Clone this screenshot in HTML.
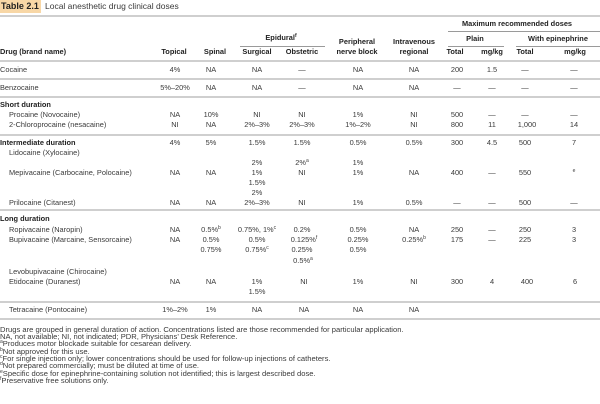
<!DOCTYPE html>
<html><head><meta charset="utf-8"><style>
html,body{margin:0;padding:0;background:#fff;}
body{width:600px;height:404px;position:relative;overflow:hidden;font-family:"Liberation Sans",sans-serif;font-size:7.4px;color:#3a3a3a;}
.t{position:absolute;line-height:10px;white-space:nowrap;}
.c{transform:translateX(-50%);}
.b{font-weight:bold;color:#222;}
.h{position:absolute;height:2px;background:#cfcfcf;}
.s{position:absolute;height:1px;background:#9a9a9a;}
sup{font-size:5px;vertical-align:3px;line-height:0;}
.f{position:absolute;left:0;line-height:8px;font-size:7.6px;white-space:nowrap;}
</style></head><body>
<div style="position:absolute;left:0;top:0;width:41px;height:13px;background:#f8d7a6;"></div>
<div class="t b" style="left:1px;top:1px;font-size:9px;">Table 2.1</div>
<div class="t" style="left:45px;top:1px;font-size:8.5px;">Local anesthetic drug clinical doses</div>
<div class="h" style="left:0;top:15px;width:600px;"></div>

<div class="t b c" style="left:517px;top:19px;">Maximum recommended doses</div>
<div class="s" style="left:448px;top:31px;width:152px;"></div>
<div class="t b c" style="left:281px;top:33px;">Epidural<sup>f</sup></div>
<div class="t b c" style="left:475px;top:34px;">Plain</div>
<div class="t b c" style="left:558px;top:34px;">With epinephrine</div>
<div class="s" style="left:240px;top:46px;width:85px;"></div>
<div class="s" style="left:448px;top:46px;width:56px;"></div>
<div class="s" style="left:516px;top:46px;width:84px;"></div>
<div class="t b c" style="left:357px;top:37px;">Peripheral</div>
<div class="t b c" style="left:414px;top:37px;">Intravenous</div>
<div class="t b" style="left:0;top:47px;">Drug (brand name)</div>
<div class="t b c" style="left:174px;top:47px;">Topical</div>
<div class="t b c" style="left:215px;top:47px;">Spinal</div>
<div class="t b c" style="left:257px;top:47px;">Surgical</div>
<div class="t b c" style="left:302px;top:47px;">Obstetric</div>
<div class="t b c" style="left:357px;top:47px;">nerve block</div>
<div class="t b c" style="left:414px;top:47px;">regional</div>
<div class="t b c" style="left:455px;top:47px;">Total</div>
<div class="t b c" style="left:492px;top:47px;">mg/kg</div>
<div class="t b c" style="left:525px;top:47px;">Total</div>
<div class="t b c" style="left:575px;top:47px;">mg/kg</div>
<div class="h" style="left:0;top:60px;width:600px;"></div>

<div class="t" style="left:0;top:65px;">Cocaine</div>
<div class="t c" style="left:175px;top:65px;">4%</div>
<div class="t c" style="left:211px;top:65px;">NA</div>
<div class="t c" style="left:257px;top:65px;">NA</div>
<div class="t c" style="left:302px;top:65px;">—</div>
<div class="t c" style="left:358px;top:65px;">NA</div>
<div class="t c" style="left:414px;top:65px;">NA</div>
<div class="t c" style="left:457px;top:65px;">200</div>
<div class="t c" style="left:492px;top:65px;">1.5</div>
<div class="t c" style="left:525px;top:65px;">—</div>
<div class="t c" style="left:574px;top:65px;">—</div>
<div class="h" style="left:0;top:78px;width:600px;"></div>
<div class="t" style="left:0;top:83px;">Benzocaine</div>
<div class="t c" style="left:175px;top:83px;">5%–20%</div>
<div class="t c" style="left:211px;top:83px;">NA</div>
<div class="t c" style="left:257px;top:83px;">NA</div>
<div class="t c" style="left:302px;top:83px;">—</div>
<div class="t c" style="left:358px;top:83px;">NA</div>
<div class="t c" style="left:414px;top:83px;">NA</div>
<div class="t c" style="left:457px;top:83px;">—</div>
<div class="t c" style="left:492px;top:83px;">—</div>
<div class="t c" style="left:525px;top:83px;">—</div>
<div class="t c" style="left:574px;top:83px;">—</div>
<div class="h" style="left:0;top:96px;width:600px;"></div>
<div class="t b" style="left:0;top:100px;">Short duration</div>
<div class="t" style="left:9px;top:110px;">Procaine (Novocaine)</div>
<div class="t c" style="left:175px;top:110px;">NA</div>
<div class="t c" style="left:211px;top:110px;">10%</div>
<div class="t c" style="left:257px;top:110px;">NI</div>
<div class="t c" style="left:302px;top:110px;">NI</div>
<div class="t c" style="left:358px;top:110px;">1%</div>
<div class="t c" style="left:414px;top:110px;">NI</div>
<div class="t c" style="left:457px;top:110px;">500</div>
<div class="t c" style="left:492px;top:110px;">—</div>
<div class="t c" style="left:525px;top:110px;">—</div>
<div class="t c" style="left:574px;top:110px;">—</div>
<div class="t" style="left:9px;top:120px;">2-Chloroprocaine (nesacaine)</div>
<div class="t c" style="left:175px;top:120px;">NI</div>
<div class="t c" style="left:211px;top:120px;">NA</div>
<div class="t c" style="left:257px;top:120px;">2%–3%</div>
<div class="t c" style="left:302px;top:120px;">2%–3%</div>
<div class="t c" style="left:358px;top:120px;">1%–2%</div>
<div class="t c" style="left:414px;top:120px;">NI</div>
<div class="t c" style="left:457px;top:120px;">800</div>
<div class="t c" style="left:492px;top:120px;">11</div>
<div class="t c" style="left:527px;top:120px;">1,000</div>
<div class="t c" style="left:574px;top:120px;">14</div>
<div class="h" style="left:0;top:134px;width:600px;"></div>
<div class="t b" style="left:0;top:138px;">Intermediate duration</div>
<div class="t c" style="left:175px;top:138px;">4%</div>
<div class="t c" style="left:211px;top:138px;">5%</div>
<div class="t c" style="left:257px;top:138px;">1.5%</div>
<div class="t c" style="left:302px;top:138px;">1.5%</div>
<div class="t c" style="left:358px;top:138px;">0.5%</div>
<div class="t c" style="left:414px;top:138px;">0.5%</div>
<div class="t c" style="left:457px;top:138px;">300</div>
<div class="t c" style="left:492px;top:138px;">4.5</div>
<div class="t c" style="left:525px;top:138px;">500</div>
<div class="t c" style="left:574px;top:138px;">7</div>
<div class="t" style="left:9px;top:148px;">Lidocaine (Xylocaine)</div>
<div class="t c" style="left:257px;top:158px;">2%</div>
<div class="t c" style="left:302px;top:158px;">2%<sup>a</sup></div>
<div class="t c" style="left:358px;top:158px;">1%</div>
<div class="t" style="left:9px;top:168px;">Mepivacaine (Carbocaine, Polocaine)</div>
<div class="t c" style="left:175px;top:168px;">NA</div>
<div class="t c" style="left:211px;top:168px;">NA</div>
<div class="t c" style="left:257px;top:168px;">1%</div>
<div class="t c" style="left:302px;top:168px;">NI</div>
<div class="t c" style="left:358px;top:168px;">1%</div>
<div class="t c" style="left:414px;top:168px;">NA</div>
<div class="t c" style="left:457px;top:168px;">400</div>
<div class="t c" style="left:492px;top:168px;">—</div>
<div class="t c" style="left:525px;top:168px;">550</div>
<div class="t c" style="left:574px;top:168px;"><sup>e</sup></div>
<div class="t c" style="left:257px;top:178px;">1.5%</div>
<div class="t c" style="left:257px;top:188px;">2%</div>
<div class="t" style="left:9px;top:198px;">Prilocaine (Citanest)</div>
<div class="t c" style="left:175px;top:198px;">NA</div>
<div class="t c" style="left:211px;top:198px;">NA</div>
<div class="t c" style="left:257px;top:198px;">2%–3%</div>
<div class="t c" style="left:302px;top:198px;">NI</div>
<div class="t c" style="left:358px;top:198px;">1%</div>
<div class="t c" style="left:414px;top:198px;">0.5%</div>
<div class="t c" style="left:457px;top:198px;">—</div>
<div class="t c" style="left:492px;top:198px;">—</div>
<div class="t c" style="left:525px;top:198px;">500</div>
<div class="t c" style="left:574px;top:198px;">—</div>
<div class="h" style="left:0;top:209px;width:600px;"></div>
<div class="t b" style="left:0;top:214px;">Long duration</div>
<div class="t" style="left:9px;top:225px;">Ropivacaine (Naropin)</div>
<div class="t c" style="left:175px;top:225px;">NA</div>
<div class="t c" style="left:211px;top:225px;">0.5%<sup>b</sup></div>
<div class="t c" style="left:257px;top:225px;">0.75%, 1%<sup>c</sup></div>
<div class="t c" style="left:302px;top:225px;">0.2%</div>
<div class="t c" style="left:358px;top:225px;">0.5%</div>
<div class="t c" style="left:414px;top:225px;">NA</div>
<div class="t c" style="left:457px;top:225px;">250</div>
<div class="t c" style="left:492px;top:225px;">—</div>
<div class="t c" style="left:525px;top:225px;">250</div>
<div class="t c" style="left:574px;top:225px;">3</div>
<div class="t" style="left:9px;top:235px;">Bupivacaine (Marcaine, Sensorcaine)</div>
<div class="t c" style="left:175px;top:235px;">NA</div>
<div class="t c" style="left:211px;top:235px;">0.5%</div>
<div class="t c" style="left:257px;top:235px;">0.5%</div>
<div class="t c" style="left:304px;top:235px;">0.125%<sup>f</sup></div>
<div class="t c" style="left:358px;top:235px;">0.25%</div>
<div class="t c" style="left:414px;top:235px;">0.25%<sup>b</sup></div>
<div class="t c" style="left:457px;top:235px;">175</div>
<div class="t c" style="left:492px;top:235px;">—</div>
<div class="t c" style="left:525px;top:235px;">225</div>
<div class="t c" style="left:574px;top:235px;">3</div>
<div class="t c" style="left:211px;top:245px;">0.75%</div>
<div class="t c" style="left:257px;top:245px;">0.75%<sup>c</sup></div>
<div class="t c" style="left:302px;top:245px;">0.25%</div>
<div class="t c" style="left:358px;top:245px;">0.5%</div>
<div class="t c" style="left:303px;top:256px;">0.5%<sup>a</sup></div>
<div class="t" style="left:9px;top:267px;">Levobupivacaine (Chirocaine)</div>
<div class="t" style="left:9px;top:277px;">Etidocaine (Duranest)</div>
<div class="t c" style="left:175px;top:277px;">NA</div>
<div class="t c" style="left:211px;top:277px;">NA</div>
<div class="t c" style="left:257px;top:277px;">1%</div>
<div class="t c" style="left:304px;top:277px;">NI</div>
<div class="t c" style="left:358px;top:277px;">1%</div>
<div class="t c" style="left:414px;top:277px;">NI</div>
<div class="t c" style="left:457px;top:277px;">300</div>
<div class="t c" style="left:492px;top:277px;">4</div>
<div class="t c" style="left:527px;top:277px;">400</div>
<div class="t c" style="left:575px;top:277px;">6</div>
<div class="t c" style="left:257px;top:287px;">1.5%</div>
<div class="h" style="left:0;top:301px;width:600px;"></div>
<div class="t" style="left:9px;top:305px;">Tetracaine (Pontocaine)</div>
<div class="t c" style="left:175px;top:305px;">1%–2%</div>
<div class="t c" style="left:211px;top:305px;">1%</div>
<div class="t c" style="left:257px;top:305px;">NA</div>
<div class="t c" style="left:304px;top:305px;">NA</div>
<div class="t c" style="left:358px;top:305px;">NA</div>
<div class="t c" style="left:414px;top:305px;">NA</div>
<div class="h" style="left:0;top:318px;width:600px;"></div>

<div class="f" style="top:326px;">Drugs are grouped in general duration of action. Concentrations listed are those recommended for particular application.</div>
<div class="f" style="top:333px;">NA, not available; NI, not indicated; PDR, Physicians’ Desk Reference.</div>
<div class="f" style="top:340px;"><sup>a</sup>Produces motor blockade suitable for cesarean delivery.</div>
<div class="f" style="top:348px;"><sup>b</sup>Not approved for this use.</div>
<div class="f" style="top:355px;"><sup>c</sup>For single injection only; lower concentrations should be used for follow-up injections of catheters.</div>
<div class="f" style="top:362px;"><sup>d</sup>Not prepared commercially; must be diluted at time of use.</div>
<div class="f" style="top:370px;"><sup>e</sup>Specific dose for epinephrine-containing solution not identified; this is largest described dose.</div>
<div class="f" style="top:377px;"><sup>f</sup>Preservative free solutions only.</div>
</body></html>
